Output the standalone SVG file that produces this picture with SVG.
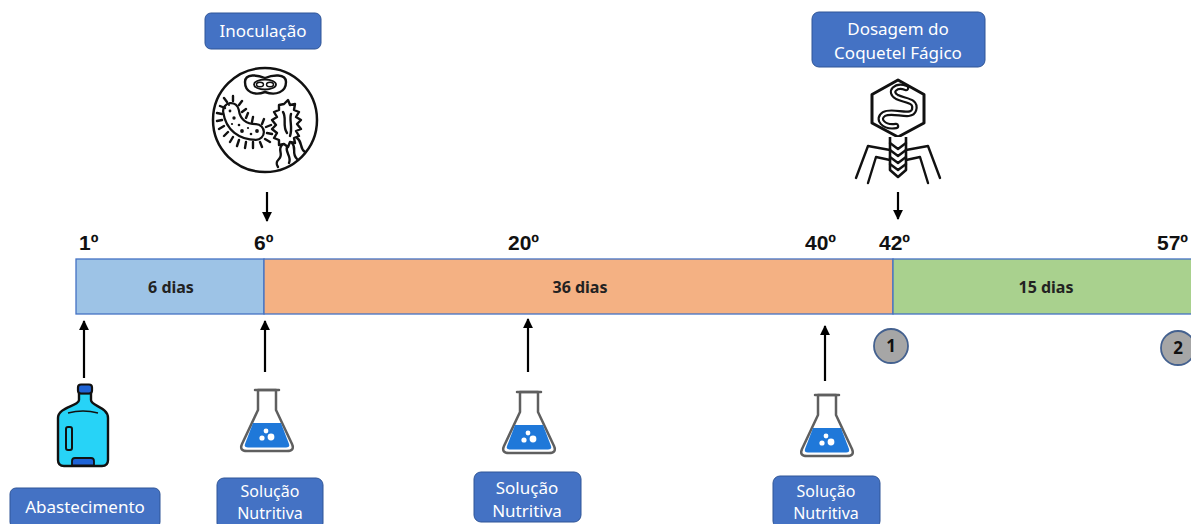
<svg xmlns="http://www.w3.org/2000/svg" xmlns:xlink="http://www.w3.org/1999/xlink" width="1191" height="524" viewBox="0 0 1191 524">
  <style>
    .box { fill: #4472C4; stroke: #2F5597; stroke-width: 1; }
    .boxtxt { font-family: "Noto Sans", "Open Sans", sans-serif; font-size: 17px; fill: #ffffff; text-anchor: middle; }
    .tight { font-size: 16px; }
    .day { font-family: "Liberation Sans", Arial, sans-serif; font-size: 21px; font-weight: bold; fill: #111111; }
    .dur { font-family: "Noto Sans", "Open Sans", sans-serif; font-size: 16px; font-weight: bold; fill: #222222; text-anchor: middle; }
    .seg { stroke: #4472C4; stroke-width: 1.3; }
    .arrow { stroke: #000000; stroke-width: 2.2; fill: none; marker-end: url(#head); }
    .badge { fill: #A6A6A6; stroke: #44618F; stroke-width: 1.8; }
    .badgetxt { font-family: "Noto Sans", sans-serif; font-size: 17px; font-weight: bold; fill: #111111; text-anchor: middle; }
    .ink { fill: none; stroke: #111111; stroke-width: 2.4; stroke-linecap: round; stroke-linejoin: round; }
  </style>
  <defs>
    <marker id="head" viewBox="0 0 10 10" refX="9" refY="5" markerWidth="4.5" markerHeight="4.5" orient="auto">
      <path d="M0,0 L10,5 L0,10 Z" fill="#000000"/>
    </marker>
    <!-- Erlenmeyer flask with nutrient solution -->
    <g id="flask">
      <path d="M18,2 L18,22 L2,56 Q-1,63 7,63 L47,63 Q55,63 52,56 L36,22 L36,2 Z" fill="#ffffff" stroke="#5F5F5F" stroke-width="2.5" stroke-linejoin="round"/>
      <path d="M15,2 L39,2" stroke="#5F5F5F" stroke-width="2.5" stroke-linecap="round"/>
      <path d="M13,35 L41,35 L49,56 Q50,59.5 46,59.5 L8,59.5 Q4,59.5 5,56 Z" fill="#1F78D9"/>
      <circle cx="26" cy="43" r="2.4" fill="#ffffff"/>
      <circle cx="22" cy="50" r="2.6" fill="#ffffff"/>
      <circle cx="31" cy="49" r="3.4" fill="#ffffff"/>
    </g>
  </defs>

  <rect width="1191" height="524" fill="#ffffff"/>

  <!-- timeline bar -->
  <g id="timeline">
    <rect class="seg" x="76" y="259" width="188" height="55" fill="#9DC3E6"/>
    <rect class="seg" x="264" y="259" width="629" height="55" fill="#F4B183"/>
    <rect class="seg" x="893" y="259" width="310" height="55" fill="#A9D18E"/>
    <text class="dur" x="171" y="293">6 dias</text>
    <text class="dur" x="580" y="293">36 dias</text>
    <text class="dur" x="1046" y="293">15 dias</text>
  </g>

  <!-- day markers -->
  <g id="days">
    <text class="day" x="79" y="250">1º</text>
    <text class="day" x="254" y="250">6º</text>
    <text class="day" x="508" y="250">20º</text>
    <text class="day" x="805" y="250">40º</text>
    <text class="day" x="879" y="250">42º</text>
    <text class="day" x="1157" y="250">57º</text>
  </g>

  <!-- connectors -->
  <g id="connectors">
    <path class="arrow" d="M267,192 L267,221"/>
    <path class="arrow" d="M898,192 L898,219"/>
    <path class="arrow" d="M84,378 L84,321"/>
    <path class="arrow" d="M265,372 L265,321"/>
    <path class="arrow" d="M528,372 L528,319"/>
    <path class="arrow" d="M825,381 L825,326"/>
  </g>

  <!-- inoculation -->
  <g id="inoculacao">
    <rect class="box" x="205" y="13" width="116" height="36" rx="6"/>
    <text class="boxtxt" x="263" y="37">Inoculação</text>
  </g>
  <g id="bacteria-icon">
    <circle cx="265" cy="120" r="52" fill="#ffffff" stroke="#111111" stroke-width="2.5"/>
    <!-- protozoan -->
    <path class="ink" d="M245,82 C245,73 258,75 265,78 C272,75 286,73 286,82 C286,92 276,96 265,92 C254,96 245,92 245,82 Z"/>
    <ellipse cx="265" cy="84.5" rx="11" ry="5" fill="none" stroke="#111111" stroke-width="1.8"/>
    <ellipse cx="260" cy="84.5" rx="3.5" ry="2.2" fill="none" stroke="#111111" stroke-width="1.4"/>
    <ellipse cx="270" cy="84.5" rx="3.5" ry="2.2" fill="none" stroke="#111111" stroke-width="1.4"/>
    <!-- curved rod with flagella -->
    <path d="M231,111 C233,125 243,132 256,132" fill="none" stroke="#111111" stroke-width="18" stroke-linecap="round"/>
    <path d="M231,111 C233,125 243,132 256,132" fill="none" stroke="#ffffff" stroke-width="13.5" stroke-linecap="round"/>
    <path class="ink" stroke-width="1.6" d="M225,108 L220,106 M222,114 L217,113 M222,120 L217,121 M224,126 L219,129 M228,132 L224,136 M233,137 L230,142 M239,140 L237,146 M246,142 L245,148 M253,142 L253,148 M260,142 L262,147 M265,139 L270,142 M267,133 L272,134 M266,127 L271,125 M262,124 L264,119 M252,122 L253,117 M246,118 L248,113 M242,112 L246,109 M239,105 L242,101 M233,101 L233,96 M227,102 L224,98"/>
    <circle cx="230" cy="111" r="1.4" fill="#111"/>
    <circle cx="234" cy="118" r="1.7" fill="#111"/>
    <circle cx="232" cy="124" r="1.1" fill="#111"/>
    <circle cx="239" cy="125" r="1.3" fill="#111"/>
    <circle cx="242" cy="131" r="1.9" fill="#111"/>
    <circle cx="248" cy="128" r="1.1" fill="#111"/>
    <circle cx="251" cy="134" r="1.3" fill="#111"/>
    <circle cx="257" cy="131" r="1.9" fill="#111"/>
    <circle cx="229" cy="105" r="1" fill="#111"/>
    <!-- spiky cell with tails -->
    <path class="ink" stroke-width="2" d="M284,104 L288,100 L290,105 L295,104 L294,110 L299,112 L296,117 L301,120 L297,124 L301,129 L296,131 L299,136 L294,138 L295,143 L290,142 L288,147 L284,144 L279,145 L279,140 L274,138 L277,133 L272,129 L276,125 L272,120 L277,117 L274,112 L279,110 L279,105 Z"/>
    <path class="ink" stroke-width="1.8" d="M282,145 C277,150 284,154 279,159 C276,162 276,164 278,167 M287,147 C285,153 292,156 289,163 M292,143 C297,148 291,153 297,159 M297,138 C303,142 299,148 305,152"/>
    <path class="ink" stroke-width="1.4" d="M283,112 C287,118 282,126 287,133 M291,114 C289,120 293,128 290,136"/>
  </g>

  <!-- phage cocktail dosing -->
  <g id="dosagem">
    <rect class="box" x="812" y="12" width="173" height="55" rx="7"/>
    <text class="boxtxt" x="898" y="35">Dosagem do</text>
    <text class="boxtxt" x="898" y="59">Coquetel Fágico</text>
  </g>
  <g id="phage-icon">
    <path d="M898,80 L924,94.5 L924,123 L898,137 L872,123 L872,94.5 Z" fill="#ffffff" stroke="#111111" stroke-width="3" stroke-linejoin="round"/>
    <path d="M906,88 C896,84 888,92 897,97 C905,101 917,100 914,110 C911,119 893,109 884,114 C876,119 884,128 896,126" fill="none" stroke="#111111" stroke-width="6.5" stroke-linecap="round"/>
    <path d="M906,88 C896,84 888,92 897,97 C905,101 917,100 914,110 C911,119 893,109 884,114 C876,119 884,128 896,126" fill="none" stroke="#ffffff" stroke-width="2.2" stroke-linecap="round"/>
    <!-- tail -->
    <path d="M890,137 L890,170 L898,177 L906,170 L906,137" fill="#ffffff" stroke="#111111" stroke-width="2.6" stroke-linejoin="round"/>
    <path class="ink" stroke-width="2.2" d="M890,143 L898,149 L906,143 M890,150 L898,156 L906,150 M890,157 L898,163 L906,157 M890,164 L898,170 L906,164"/>
    <!-- legs -->
    <path class="ink" stroke-width="2.8" d="M890,150 L868,146 L856,178 M890,160 L876,157 L868,183 M906,150 L928,146 L940,178 M906,160 L920,157 L928,183"/>
  </g>

  <!-- water supply -->
  <g id="abastecimento">
    <path d="M79,393 L79,400 C79,406 58,407 58,418 L58,460 Q58,466 64,466 L102,466 Q108,466 108,460 L108,418 C108,407 91,406 91,400 L91,393 Z" fill="#27D3F7" stroke="#111111" stroke-width="2.4" stroke-linejoin="round"/>
    <rect x="78" y="384.5" width="14" height="9" rx="3" fill="#1E63D6" stroke="#111111" stroke-width="2.2"/>
    <path d="M68,413 Q83,409 98,413" fill="none" stroke="#111111" stroke-width="1.4"/>
    <rect x="66" y="427" width="6" height="23" rx="2" fill="#27D3F7" stroke="#111111" stroke-width="2"/>
    <path d="M72,465.5 L72,461 Q72,458 75,458 L91,458 Q94,458 94,461 L94,465.5 Z" fill="#1E63D6" stroke="#111111" stroke-width="1.8"/>
    <rect class="box" x="10" y="488" width="150" height="40" rx="6"/>
    <text class="boxtxt" x="85" y="513">Abastecimento</text>
  </g>

  <!-- nutrient solution additions -->
  <g id="solucao-1">
    <use xlink:href="#flask" x="240" y="388"/>
    <rect class="box" x="217" y="478" width="106" height="52" rx="7"/>
    <text class="boxtxt tight" x="270" y="497">Solução</text>
    <text class="boxtxt tight" x="270" y="519">Nutritiva</text>
  </g>
  <g id="solucao-2">
    <use xlink:href="#flask" x="502" y="390"/>
    <rect class="box" x="474" y="472" width="107" height="50" rx="7"/>
    <text class="boxtxt" x="527" y="494">Solução</text>
    <text class="boxtxt" x="527" y="517">Nutritiva</text>
  </g>
  <g id="solucao-3">
    <use xlink:href="#flask" x="800" y="393"/>
    <rect class="box" x="773" y="476" width="107" height="52" rx="7"/>
    <text class="boxtxt tight" x="826" y="497">Solução</text>
    <text class="boxtxt tight" x="826" y="519">Nutritiva</text>
  </g>

  <!-- sampling points -->
  <g id="ponto-1">
    <circle class="badge" cx="891" cy="346" r="17"/>
    <text class="badgetxt" x="891" y="352">1</text>
  </g>
  <g id="ponto-2">
    <circle class="badge" cx="1178" cy="348" r="17"/>
    <text class="badgetxt" x="1178" y="354">2</text>
  </g>
</svg>
